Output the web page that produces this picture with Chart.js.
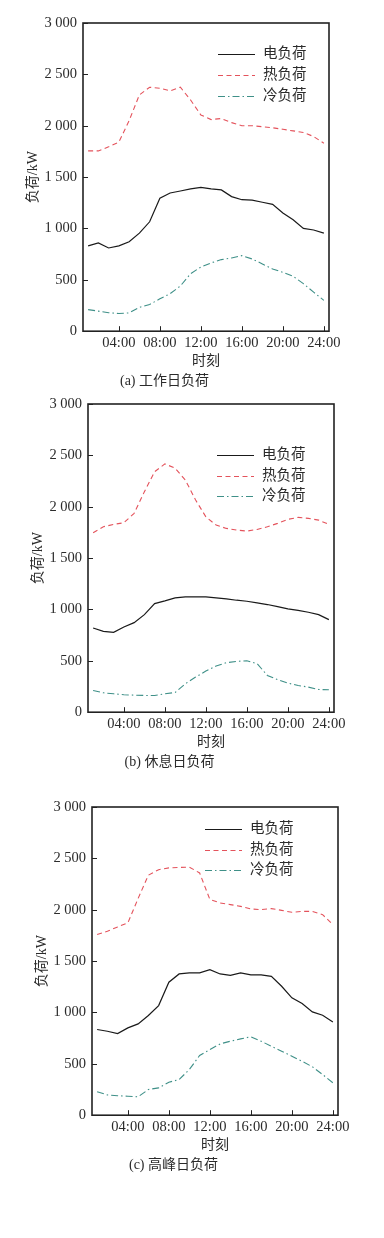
<!DOCTYPE html>
<html>
<head>
<meta charset="utf-8">
<script src="https://cdn.jsdelivr.net/npm/chart.js@4.4.1/dist/chart.umd.min.js"></script>
<style>
  html, body { margin: 0; padding: 0; background: #fff; }
  body { width: 384px; height: 1238px; position: relative; overflow: hidden; }
  .panel { position: absolute; width: 384px; height: 390px; }
</style>
</head>
<body>
<div class="panel" style="left:0;top:0"><canvas id="chartA"></canvas></div>
<div class="panel" style="left:5px;top:381px"><canvas id="chartB"></canvas></div>
<div class="panel" style="left:9px;top:784px"><canvas id="chartC"></canvas></div>

<script>
'use strict';

// hour of day (1..24)
const hours = [1, 2, 3, 4, 5, 6, 7, 8, 9, 10, 11, 12, 13, 14, 15, 16, 17, 18, 19, 20, 21, 22, 23, 24];
const xTicks = [4, 8, 12, 16, 20, 24];
const yTicks = [0, 500, 1000, 1500, 2000, 2500, 3000];
const seriesNames = ['电负荷', '热负荷', '冷负荷'];
const captions = ['(a) 工作日负荷', '(b) 休息日负荷', '(c) 高峰日负荷'];

// (a) working day, kW
const workElec = [830, 860, 810, 830, 870, 955, 1065, 1295, 1345, 1365, 1385, 1400, 1385, 1375, 1310, 1280, 1275, 1255, 1235, 1150, 1085, 1000, 985, 955];
const workHeat = [1755, 1755, 1795, 1840, 2050, 2300, 2375, 2365, 2340, 2375, 2250, 2105, 2060, 2070, 2030, 2000, 2000, 1990, 1980, 1965, 1950, 1935, 1895, 1830];
const workCold = [210, 195, 180, 172, 178, 232, 260, 315, 365, 440, 560, 625, 665, 697, 713, 735, 703, 655, 606, 573, 535, 463, 380, 300];

// (b) rest day, kW
const restElec = [820, 787, 778, 829, 872, 950, 1057, 1083, 1112, 1122, 1122, 1122, 1112, 1103, 1090, 1080, 1064, 1048, 1028, 1005, 992, 973, 950, 901];
const restHeat = [1746, 1805, 1828, 1844, 1936, 2146, 2341, 2417, 2375, 2260, 2065, 1902, 1821, 1789, 1773, 1763, 1779, 1805, 1838, 1877, 1896, 1887, 1870, 1828];
const restCold = [212, 189, 179, 170, 166, 163, 163, 179, 192, 277, 342, 400, 449, 482, 495, 501, 472, 358, 316, 283, 260, 244, 221, 218];

// (c) peak day, kW
const peakElec = [834, 817, 795, 850, 889, 970, 1067, 1295, 1375, 1385, 1385, 1417, 1375, 1362, 1385, 1366, 1366, 1352, 1255, 1142, 1087, 1006, 973, 908];
const peakHeat = [1758, 1790, 1833, 1872, 2110, 2336, 2390, 2407, 2412, 2415, 2358, 2100, 2066, 2050, 2033, 2008, 2001, 2011, 1994, 1975, 1984, 1984, 1952, 1855];
const peakCold = [228, 198, 189, 185, 179, 250, 266, 321, 347, 445, 581, 639, 694, 720, 743, 763, 720, 671, 623, 574, 525, 471, 396, 315];

const FONT = '"Liberation Serif", "Noto Sans CJK SC", serif';
const INK = '#2b2b2b';
const STYLES = [
  { borderColor: '#1a1a1a', borderDash: [], borderWidth: 1.2 },
  { borderColor: '#e4535c', borderDash: [5, 3.5], borderWidth: 1.1 },
  { borderColor: '#3f9088', borderDash: [7, 3, 1.5, 3], borderWidth: 1.1 }
];

function fmtThousands(v) {
  return v >= 1000 ? Math.floor(v / 1000) + ' ' + String(v % 1000).padStart(3, '0') : String(v);
}

// box frame + inward tick marks
const frameTicks = {
  id: 'frameTicks',
  afterDatasetsDraw(chart) {
    const { ctx, chartArea: a, scales: { x, y } } = chart;
    ctx.save();
    ctx.strokeStyle = '#222';
    ctx.lineWidth = 1;
    ctx.beginPath();
    x.ticks.forEach(t => {
      const px = Math.round(x.getPixelForValue(t.value)) + 0.5;
      ctx.moveTo(px, a.bottom); ctx.lineTo(px, a.bottom - 5);
    });
    y.ticks.forEach(t => {
      const py = Math.round(y.getPixelForValue(t.value)) + 0.5;
      ctx.moveTo(a.left, py); ctx.lineTo(a.left + 5, py);
    });
    ctx.stroke();
    ctx.lineWidth = 1.6;
    ctx.strokeRect(a.left, a.top, a.right - a.left, a.bottom - a.top);
    ctx.restore();
  }
};

// legend drawn inside the plot, line sample + label
const lineLegend = {
  id: 'lineLegend',
  afterDraw(chart, args, opts) {
    const { ctx, chartArea: a } = chart;
    ctx.save();
    ctx.font = '14.5px ' + FONT;
    ctx.textBaseline = 'middle';
    chart.data.datasets.forEach((ds, i) => {
      const x0 = a.left + opts.left, yy = Math.round(a.top + opts.top + i * opts.step) + 0.5;
      ctx.strokeStyle = ds.borderColor;
      ctx.lineWidth = ds.borderWidth;
      ctx.setLineDash(ds.borderDash || []);
      ctx.beginPath(); ctx.moveTo(x0, yy); ctx.lineTo(x0 + 37, yy); ctx.stroke();
      ctx.setLineDash([]);
      ctx.fillStyle = INK;
      ctx.fillText(ds.label, x0 + 45, yy);
    });
    ctx.restore();
  }
};

function makePanel(id, caption, series, legendPos) {
  const el = document.getElementById(id); if (!el) return;
  const datasets = series.map((vals, i) => Object.assign({
    label: seriesNames[i],
    data: hours.map((h, j) => ({ x: h, y: vals[j] })),
    pointRadius: 0,
    tension: 0,
    fill: false
  }, STYLES[i]));

  return new Chart(el, {
    type: 'line',
    data: { datasets },
    plugins: [frameTicks, lineLegend],
    options: {
      responsive: true,
      maintainAspectRatio: false,
      animation: false,
      devicePixelRatio: 1,
      layout: { padding: { top: 23, right: 55, left: 0, bottom: 0 } },
      plugins: {
        legend: { display: false },
        tooltip: { enabled: false },
        title: {
          display: true, position: 'bottom', text: caption, color: INK,
          font: { family: FONT, size: 14, weight: 'normal' }, padding: { top: 0, bottom: 0 }
        },
        lineLegend: legendPos
      },
      scales: {
        x: {
          type: 'linear', min: 0.5, max: 24.5,
          afterBuildTicks: s => { s.ticks = xTicks.map(v => ({ value: v })); },
          afterFit: s => { s.height = 42; },
          grid: { display: false, drawTicks: false },
          border: { display: false },
          ticks: {
            color: INK, padding: 3, autoSkip: false, maxRotation: 0,
            font: { family: FONT, size: 14.5 },
            callback: v => String(v).padStart(2, '0') + ':00'
          },
          title: {
            display: true, text: '时刻', color: INK,
            font: { family: FONT, size: 14 }, padding: { top: 0, bottom: 3 }
          }
        },
        y: {
          min: 0, max: 3000,
          afterBuildTicks: s => { s.ticks = yTicks.map(v => ({ value: v })); },
          afterFit: s => { s.width = 83; },
          grid: { display: false, drawTicks: false },
          border: { display: false },
          ticks: {
            color: INK, padding: 6,
            font: { family: FONT, size: 14.5 },
            callback: v => fmtThousands(v)
          },
          title: {
            display: true, text: '负荷/kW', color: INK,
            font: { family: FONT, size: 14 }, padding: { top: 25, bottom: 0 }
          }
        }
      }
    }
  });
}

makePanel('chartA', captions[0], [workElec, workHeat, workCold], { left: 135, top: 31, step: 21 });
makePanel('chartB', captions[1], [restElec, restHeat, restCold], { left: 129, top: 51, step: 20.5 });
makePanel('chartC', captions[2], [peakElec, peakHeat, peakCold], { left: 113, top: 22, step: 20.5 });
</script>
</body>
</html>
